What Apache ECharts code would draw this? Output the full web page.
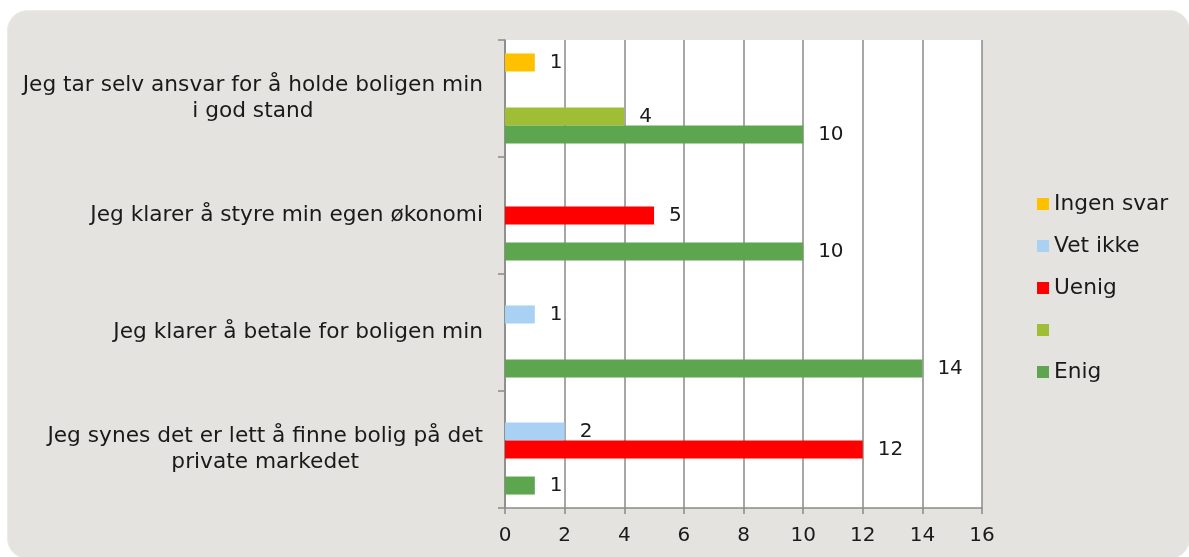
<!DOCTYPE html>
<html>
<head>
<meta charset="utf-8">
<script src="https://cdn.jsdelivr.net/npm/echarts@6/dist/echarts.min.js"></script>
<style>
  html, body { margin: 0; padding: 0; background: #fff; }
  #chart { width: 1189px; height: 557px; }
</style>
</head>
<body>
<div id="chart"></div>
<script>
const categories = [
  'Jeg tar selv ansvar for å holde boligen min\ni god stand',
  'Jeg klarer å styre min egen økonomi',
  'Jeg klarer å betale for boligen min',
  'Jeg synes det er lett å finne bolig på det\nprivate markedet'
];
const seriesNames = ['Ingen svar', 'Vet ikke', 'Uenig', ' ', 'Enig'];
const ingenSvar = [1, null, null, null];
const vetIkke = [null, null, 1, 2];
const uenig = [null, 5, null, 12];
const blank = [4, null, null, null];
const enig = [10, 10, 14, 1];
const xTicks = [0, 2, 4, 6, 8, 10, 12, 14, 16];

const colors = ['#FFC000', '#A9D1F3', '#FF0000', '#A0BE35', '#5DA64F'];
const values = [ingenSvar, vetIkke, uenig, blank, enig];

const textColor = '#1a1a1a';
const font = 'DejaVu Sans';
const fs = 21.7;   // category + legend text
const fsNum = 20;  // numbers

const chart = echarts.init(document.getElementById('chart'), null, { renderer: 'canvas' });

const option = {
  animation: false,
  color: colors,
  graphic: [{
    type: 'rect',
    z: -10,
    silent: true,
    shape: { x: 7.5, y: 10.5, width: 1182, height: 548, r: 20 },
    style: { fill: '#E4E3DF', stroke: '#ECEBE8', lineWidth: 1 }
  }],
  grid: {
    left: 505, right: 207, top: 40, bottom: 49,
    outerBoundsMode: 'none',
    containLabel: false,
    show: true, backgroundColor: '#fff', borderWidth: 0
  },
  legend: {
    orient: 'vertical',
    left: 1032, top: 188,
    itemWidth: 12, itemHeight: 12,
    itemGap: 20,
    icon: 'rect',
    data: seriesNames,
    textStyle: { fontFamily: font, fontSize: fs, color: textColor }
  },
  xAxis: {
    type: 'value',
    min: xTicks[0], max: xTicks[xTicks.length - 1], interval: 2,
    axisLine: { show: true, lineStyle: { color: '#8A8A8A', width: 1.5 } },
    axisTick: { show: true, length: 6, lineStyle: { color: '#8A8A8A', width: 1.5 } },
    splitLine: { show: true, lineStyle: { color: '#8A8A8A', width: 1.5 } },
    axisLabel: { fontFamily: font, fontSize: fsNum, color: textColor, margin: 18 }
  },
  yAxis: {
    type: 'category',
    inverse: true,
    data: categories,
    axisLine: { show: true, lineStyle: { color: '#8A8A8A', width: 1.5 } },
    axisTick: { show: true, length: 7, lineStyle: { color: '#8A8A8A', width: 1.5 } },
    axisLabel: {
      fontFamily: font, fontSize: fs, color: textColor, margin: 22, lineHeight: 26,
      // wrapped lines are centred on each other, block right-aligned at the axis
      formatter: function (value) {
        return value.split('\n').map(function (l) { return '{c|' + l + '}'; }).join('\n');
      },
      rich: {
        c: { align: 'center', fontFamily: font, fontSize: fs, color: textColor, lineHeight: 26 }
      }
    }
  },
  series: seriesNames.map(function (name, i) {
    return {
      name: name,
      type: 'bar',
      data: values[i],
      barGap: '0%',
      barCategoryGap: '23%',
      itemStyle: { color: colors[i] },
      label: {
        show: true,
        position: 'right',
        distance: 15,
        fontFamily: font,
        fontSize: fsNum,
        color: textColor
      }
    };
  })
};

chart.setOption(option);
</script>
</body>
</html>
